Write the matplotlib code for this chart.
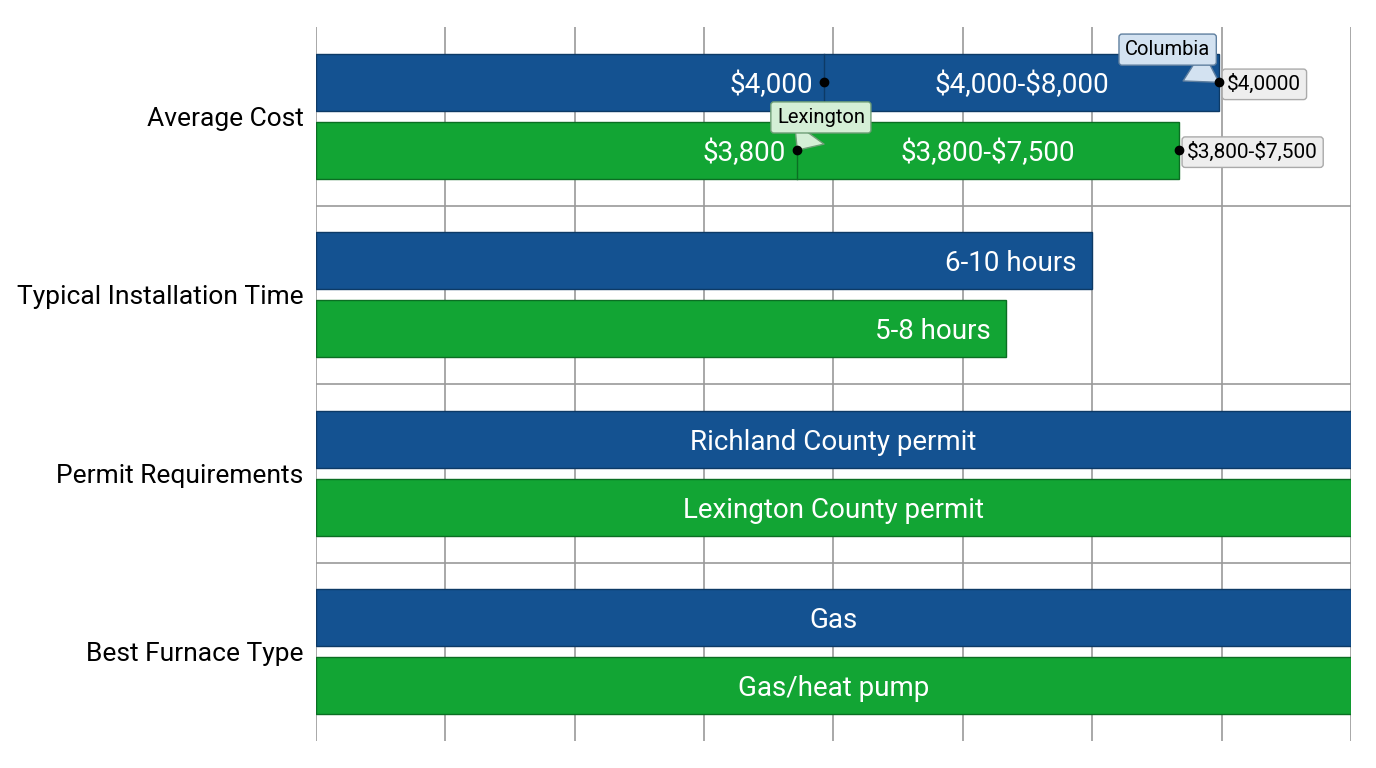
import matplotlib
matplotlib.use("Agg")
import matplotlib.pyplot as plt
import numpy as np

plt.rcParams["font.family"] = ["Roboto", "DejaVu Sans"]
plt.rcParams["text.parse_math"] = False

# ---- data ----
categories = ["Average Cost", "Typical Installation Time", "Permit Requirements", "Best Furnace Type"]
series_names = ["Columbia", "Lexington"]
columbia_vals = [6.98, 6.0, 8.0, 8.0]
lexington_vals = [6.67, 5.33, 8.0, 8.0]
columbia_text = ["$4,000-$8,000", "6-10 hours", "Richland County permit", "Gas"]
lexington_text = ["$3,800-$7,500", "5-8 hours", "Lexington County permit", "Gas/heat pump"]
low_marks = [3.93, 3.72]          # low end of cost range, Columbia / Lexington
low_text = ["$4,000", "$3,800"]
end_text = ["$4,0000", "$3,800-$7,500"]

BLUE = "#145291"
GREEN = "#12a534"

fig = plt.figure(figsize=(13.76, 7.68), dpi=100)
ax = fig.add_axes([316 / 1376, 1 - 741 / 768, 1035 / 1376, 714 / 768])

y = np.arange(len(categories))
h = 0.32
off = 0.19

ax.barh(y - off, columbia_vals, height=h, color=BLUE, edgecolor="#0d3a66", linewidth=1, zorder=3)
ax.barh(y + off, lexington_vals, height=h, color=GREEN, edgecolor="#0b6e23", linewidth=1, zorder=3)

ax.set_xlim(0, 8)
ax.set_ylim(3.5, -0.5)

# grid
ax.set_xticks(np.arange(0, 9))
ax.set_xticklabels([])
ax.set_yticks(y)
ax.set_yticklabels(categories, fontsize=19, va="center_baseline")
ax.set_yticks(y[:-1] + 0.5, minor=True)
ax.tick_params(axis="both", which="both", length=0)
ax.tick_params(axis="y", pad=9)
ax.grid(True, axis="x", which="major", color="#9a9a9a", linewidth=1.2, zorder=0)
ax.grid(True, axis="y", which="minor", color="#9a9a9a", linewidth=1.2, zorder=0)
ax.grid(False, axis="y", which="major")
for s in ax.spines.values():
    s.set_visible(False)

BAR_FS = 20
VA = "center_baseline"

# bar labels (rows 1..3)
for i in range(1, len(categories)):
    for vals, texts, dy in [(columbia_vals, columbia_text, -off), (lexington_vals, lexington_text, off)]:
        if vals[i] >= 8:
            ax.text(vals[i] / 2, y[i] + dy, texts[i], ha="center", va=VA,
                    color="white", fontsize=BAR_FS, zorder=5)
        else:
            ax.annotate(texts[i], (vals[i], y[i] + dy), xytext=(-11, 0), textcoords="offset points",
                        ha="right", va=VA, color="white", fontsize=BAR_FS, zorder=5)

# Average cost row with range markers
ends = [columbia_vals[0], lexington_vals[0]]
range_text = [columbia_text[0], lexington_text[0]]
rows = [y[0] - off, y[0] + off]
callout_fc = ["#d3e2f1", "#d4efd6"]
callout_ec = ["#5f7f9f", "#6f9f77"]
callout_off = [(-37, 25), (17, 25)]
edge_cols = ["#0d3a66", "#0b6e23"]

for k in range(2):
    yy = rows[k]
    ax.plot([low_marks[k], low_marks[k]], [yy - h / 2, yy + h / 2], color=edge_cols[k], lw=1, zorder=4)
    ax.plot(low_marks[k], yy, "o", color="black", ms=6, zorder=9)
    ax.plot(ends[k], yy, "o", color="black", ms=6, zorder=9, clip_on=False)
    ax.annotate(low_text[k], (low_marks[k], yy), xytext=(-8, 0), textcoords="offset points",
                ha="right", va=VA, color="white", fontsize=BAR_FS, zorder=5)
    ax.text((low_marks[k] + ends[k]) / 2, yy, range_text[k], ha="center", va=VA,
            color="white", fontsize=BAR_FS, zorder=5)
    ax.annotate(end_text[k], (ends[k], yy), xytext=(6, 0), textcoords="offset points",
                ha="left", va=VA, fontsize=15, zorder=7, annotation_clip=False,
                bbox=dict(boxstyle="round,pad=0.25,rounding_size=0.15", fc="#eeeeee", ec="#aaaaaa", lw=1))

# series callouts
call_pts = [(ends[0], rows[0]), (low_marks[1], rows[1])]
for k in range(2):
    ax.annotate(series_names[k], call_pts[k], xytext=callout_off[k], textcoords="offset points",
                ha="center", va=VA, fontsize=14.5, zorder=8, annotation_clip=False,
                bbox=dict(boxstyle="round,pad=0.3,rounding_size=0.15", fc=callout_fc[k], ec=callout_ec[k], lw=1),
                arrowprops=dict(arrowstyle="wedge,tail_width=1.8,shrink_factor=0.5",
                                fc=callout_fc[k], ec=callout_ec[k], lw=1, shrinkA=0, shrinkB=0))

fig.savefig("out.png", dpi=100)
